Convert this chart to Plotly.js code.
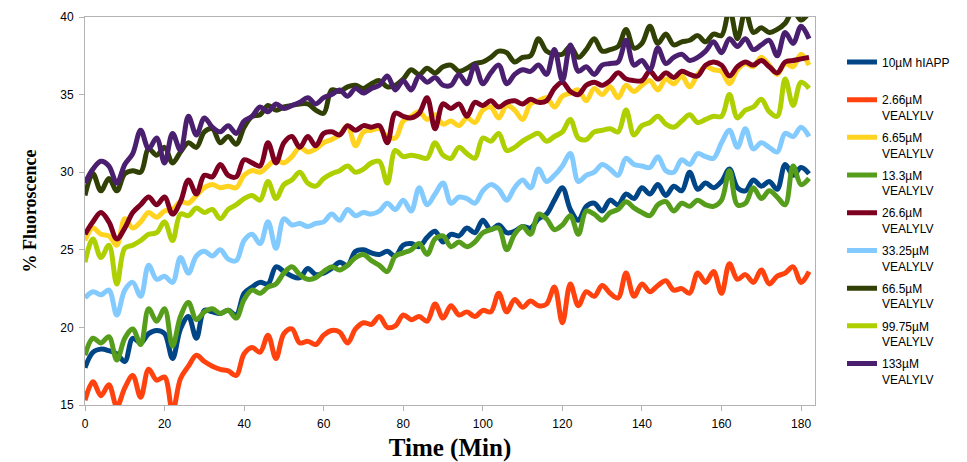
<!DOCTYPE html>
<html>
<head>
<meta charset="utf-8">
<script src="https://cdn.plot.ly/plotly-3.0.1.min.js"></script>
<style>html,body{margin:0;padding:0;background:#fff;}#chart{width:967px;height:462px;}</style>
</head>
<body>
<div id="chart"></div>
<script>
const timeMin = [0,2,4,6,8,10,12,14,16,18,20,22,24,26,28,30,32,34,36,38,40,42,44,46,48,50,52,54,56,58,60,62,64,66,68,70,72,74,76,78,80,82,84,86,88,90,92,94,96,98,100,102,104,106,108,110,112,114,116,118,120,122,124,126,128,130,132,134,136,138,140,142,144,146,148,150,152,154,156,158,160,162,164,166,168,170,172,174,176,178,180,182];

const seriesNames = ["10µM hIAPP<br>\u00A0","2.66µM<br>VEALYLV","6.65µM<br>VEALYLV","13.3µM<br>VEALYLV","26.6µM<br>VEALYLV","33.25µM<br>VEALYLV","66.5µM<br>VEALYLV","99.75µM<br>VEALYLV","133µM<br>VEALYLV"];

const hIAPP10 = [17.4,18.4,18.6,18.5,18.3,17.8,19.3,19.0,19.6,19.8,
 19.6,18.0,19.9,20.7,19.3,21.1,21.0,20.9,21.1,20.8,
 22.2,22.6,22.9,22.8,23.9,23.6,23.3,23.2,23.8,23.4,
 23.5,23.8,24.2,24.0,24.9,25.0,24.8,24.7,24.9,24.6,
 25.3,25.4,25.2,25.8,26.2,25.5,26.0,25.9,26.4,26.1,
 26.9,26.3,26.6,26.1,26.2,26.5,26.4,27.0,27.3,28.2,
 29.0,27.6,26.9,27.8,28.0,27.5,28.2,27.9,28.6,28.3,
 29.0,28.6,29.2,28.5,29.1,28.8,30.0,28.9,29.3,29.0,
 29.4,30.2,29.0,28.8,29.5,29.1,29.4,28.9,30.5,29.8,
 30.3,29.9];

const v266 = [15.3,16.5,15.6,16.3,14.9,16.1,16.9,15.5,17.3,16.6,
 16.8,14.6,16.7,17.5,18.2,17.8,17.5,17.3,17.2,16.9,
 18.3,18.7,18.4,19.5,18.0,19.6,19.9,19.0,19.1,18.9,
 19.5,19.8,19.7,19.0,19.9,20.3,20.2,20.7,20.0,20.1,
 20.8,20.5,20.7,20.4,21.5,20.6,21.4,20.8,21.0,20.7,
 21.1,21.0,22.2,21.0,21.8,21.3,21.7,21.4,21.5,22.6,
 20.3,22.8,21.4,22.3,22.0,22.7,22.2,21.9,23.5,22.0,
 22.8,22.3,22.7,23.0,22.4,22.5,22.2,23.5,22.9,23.6,
 22.2,24.1,23.1,23.4,22.9,23.7,22.8,23.3,23.5,23.9,
 22.9,23.6];

const v665 = [25.6,26.4,26.0,25.9,25.3,27.0,26.4,26.8,27.4,27.1,
 27.5,27.6,28.1,28.0,28.5,29.0,29.2,29.0,29.1,29.0,
 29.8,30.1,30.0,30.4,30.8,30.6,31.0,31.6,31.3,31.5,
 31.9,32.1,32.4,33.0,31.7,32.6,32.7,32.8,32.3,32.2,
 33.3,33.6,33.9,33.4,33.7,33.1,33.3,33.0,33.5,33.2,
 34.0,34.2,33.5,34.3,34.0,33.4,34.4,34.6,34.8,34.2,
 34.9,35.1,35.3,34.6,35.4,35.0,35.5,34.8,35.6,35.2,
 35.6,35.9,35.3,36.0,35.7,36.2,35.5,36.3,36.8,36.6,
 36.5,35.7,36.6,37.0,36.8,37.4,36.9,36.3,37.0,36.8,
 37.6,36.9];

const v133 = [18.2,19.3,19.0,19.4,17.9,19.3,19.9,18.9,21.2,20.4,
 21.2,18.8,20.7,21.6,20.5,21.0,21.2,20.9,21.1,20.6,
 21.8,22.4,22.2,22.6,22.8,23.5,23.9,23.4,23.1,23.2,
 23.6,23.9,23.7,24.0,24.5,24.7,24.3,24.0,23.6,24.6,
 24.8,25.0,25.4,24.7,25.7,25.9,25.2,25.5,25.2,25.5,
 26.1,26.3,26.4,25.0,26.0,26.5,26.0,27.3,27.0,26.3,
 26.6,27.2,26.0,27.5,27.3,26.9,27.4,27.6,28.1,27.7,
 27.4,27.2,27.9,28.1,27.5,28.0,27.8,28.2,27.9,27.8,
 28.2,30.1,27.9,28.0,29.0,28.3,28.8,28.4,27.9,30.4,
 29.2,29.6];

const v266b = [26.0,26.8,27.4,26.8,25.7,26.4,27.4,27.9,28.4,27.9,
 28.4,27.3,28.1,29.5,28.6,29.8,29.7,30.5,29.8,29.7,
 30.8,30.6,30.4,31.9,30.6,31.9,32.3,31.6,32.3,31.7,
 32.5,32.6,32.4,33.0,32.7,33.0,32.9,33.0,31.9,33.8,
 33.6,33.5,33.8,34.8,32.8,34.4,34.1,34.4,33.6,34.5,
 34.3,34.6,34.2,34.5,34.6,34.4,34.7,34.5,34.6,35.4,
 35.8,35.2,35.0,35.6,35.8,35.6,35.9,36.4,36.0,35.9,
 35.9,36.5,36.0,36.4,36.1,36.5,36.3,36.2,36.9,37.1,
 36.9,36.2,36.8,37.1,36.9,37.2,36.8,36.4,37.1,37.2,
 37.3,37.4];

const v3325 = [21.9,22.3,22.1,22.4,20.8,22.4,22.9,22.0,24.0,23.1,
 23.3,22.9,24.5,23.5,24.6,24.9,24.6,25.0,24.4,24.3,
 25.6,26.0,25.4,26.8,25.1,27.0,26.6,26.7,26.5,26.7,
 26.8,27.3,26.9,27.6,27.2,27.4,27.3,27.5,28.0,27.6,
 28.2,27.5,29.0,27.9,28.6,29.3,28.0,28.4,28.3,28.0,
 28.8,29.2,28.9,28.2,29.0,29.5,29.0,30.2,29.4,29.8,
 30.4,31.2,29.4,29.8,30.0,30.5,30.2,29.8,30.9,30.5,
 30.4,30.3,31.0,30.1,30.0,30.8,30.5,31.2,31.0,30.9,
 31.9,32.7,31.6,32.8,31.5,31.9,31.6,31.3,32.5,32.3,
 32.9,32.3];

const v665b = [28.5,29.9,28.8,29.6,28.8,29.9,30.1,30.0,31.5,31.1,
 31.6,30.6,31.3,31.9,31.6,32.6,32.8,31.9,32.3,31.8,
 32.9,33.6,33.7,34.3,34.0,34.2,34.3,34.4,34.4,34.0,
 33.8,35.3,35.2,35.5,35.6,35.4,35.7,35.9,35.5,35.6,
 36.0,36.6,36.3,36.7,36.4,36.8,36.9,36.5,36.7,37.0,
 37.1,37.4,37.8,37.7,37.1,37.4,37.5,38.6,37.8,37.6,
 37.6,38.1,37.4,37.9,38.6,37.8,37.9,38.1,39.2,38.0,
 38.3,39.4,38.3,38.9,38.2,38.4,38.5,38.8,38.4,38.9,
 38.8,40.5,38.6,40.4,39.0,39.3,39.0,39.2,39.6,40.4,
 39.8,40.3];

const v9975 = [24.2,25.7,24.5,25.3,22.8,25.1,25.3,25.6,26.0,26.1,
 26.8,25.6,27.3,27.2,27.7,27.4,27.6,27.0,27.6,27.9,
 28.3,28.5,28.2,29.4,28.3,29.2,29.5,30.0,29.3,29.1,
 29.6,29.9,30.1,30.4,30.0,30.2,30.6,30.7,29.3,31.4,
 31.0,31.1,31.0,30.9,31.9,31.1,30.9,31.6,31.2,30.9,
 32.2,32.0,32.5,31.4,31.6,32.0,32.3,32.5,32.0,32.3,
 32.6,33.4,32.2,32.1,32.6,32.7,32.8,32.6,34.0,32.4,
 33.0,33.2,33.6,33.1,32.9,33.3,33.7,33.2,33.4,33.6,
 33.6,35.0,33.5,34.0,34.2,34.7,33.9,33.6,36.0,34.3,
 35.8,35.4];

const v133b = [29.3,30.2,30.7,30.4,29.3,30.5,31.2,32.7,31.5,32.2,
 30.6,32.5,31.4,33.6,32.4,33.5,32.9,32.6,33.0,32.5,
 33.3,33.6,34.2,33.9,34.4,34.1,34.3,34.5,34.8,34.4,
 34.8,35.0,35.3,34.9,35.4,35.1,35.4,35.6,36.2,35.3,
 35.9,35.3,36.2,35.8,36.1,35.6,35.6,36.3,35.7,36.9,
 35.7,36.4,36.9,35.7,36.3,36.6,36.5,36.9,36.3,37.9,
 35.9,38.2,36.5,36.8,36.3,36.9,37.0,37.1,38.5,36.9,
 37.2,36.6,38.0,37.0,37.4,37.6,37.2,37.4,37.8,38.4,
 37.7,38.6,38.1,38.6,37.9,38.2,38.5,37.5,39.0,38.3,
 39.4,38.6];

const seriesValues = [hIAPP10, v266, v665, v133, v266b, v3325, v665b, v9975, v133b];
const seriesColors = ["#004586","#ff420e","#ffd320","#579d1c","#7e0021","#83caff","#314004","#aecf00","#4b1f6f"];

const traces = seriesValues.map((vals, i) => ({
  x: timeMin,
  y: vals,
  name: seriesNames[i],
  legendgroup: 'g' + i,
  type: 'scatter',
  mode: 'lines',
  line: {color: seriesColors[i], width: 5, shape: 'spline', smoothing: 1}
}));

const axisCommon = {
  showgrid: false,
  zeroline: false,
  showline: true,
  linecolor: '#b3b3b3',
  linewidth: 1,
  mirror: true,
  ticks: 'outside',
  ticklen: 5,
  tickcolor: '#b3b3b3',
  tickfont: {family: 'Liberation Sans, Arial, sans-serif', size: 12, color: '#000'}
};

const layout = {
  width: 967,
  height: 462,
  margin: {l: 85, r: 152, t: 17, b: 57},
  paper_bgcolor: '#fff',
  plot_bgcolor: '#fff',
  showlegend: true,
  xaxis: Object.assign({}, axisCommon, {
    range: [0, 183.5],
    dtick: 20,
    tick0: 0,
    ticklabelstandoff: 3,
    title: {text: 'Time (Min)', font: {family: 'Liberation Serif, Times New Roman, serif', size: 25, color: '#000', weight: 'bold'}, standoff: 10}
  }),
  yaxis: Object.assign({}, axisCommon, {
    range: [15, 40],
    dtick: 5,
    tick0: 15,
    ticklabelstandoff: 3,
    title: {text: '% Fluoroscence', font: {family: 'Liberation Serif, Times New Roman, serif', size: 18, color: '#000', weight: 'bold'}, standoff: 18}
  }),
  legend: {
    x: 1.037,
    xanchor: 'left',
    y: 0.921,
    yanchor: 'top',
    valign: 'top',
    bgcolor: 'rgba(0,0,0,0)',
    borderwidth: 0,
    tracegroupgap: 3.5,
    font: {family: 'Liberation Sans, Arial, sans-serif', size: 12, color: '#000'}
  }
};

Plotly.newPlot('chart', traces, layout, {displayModeBar: false, staticPlot: true});
</script>
</body>
</html>
